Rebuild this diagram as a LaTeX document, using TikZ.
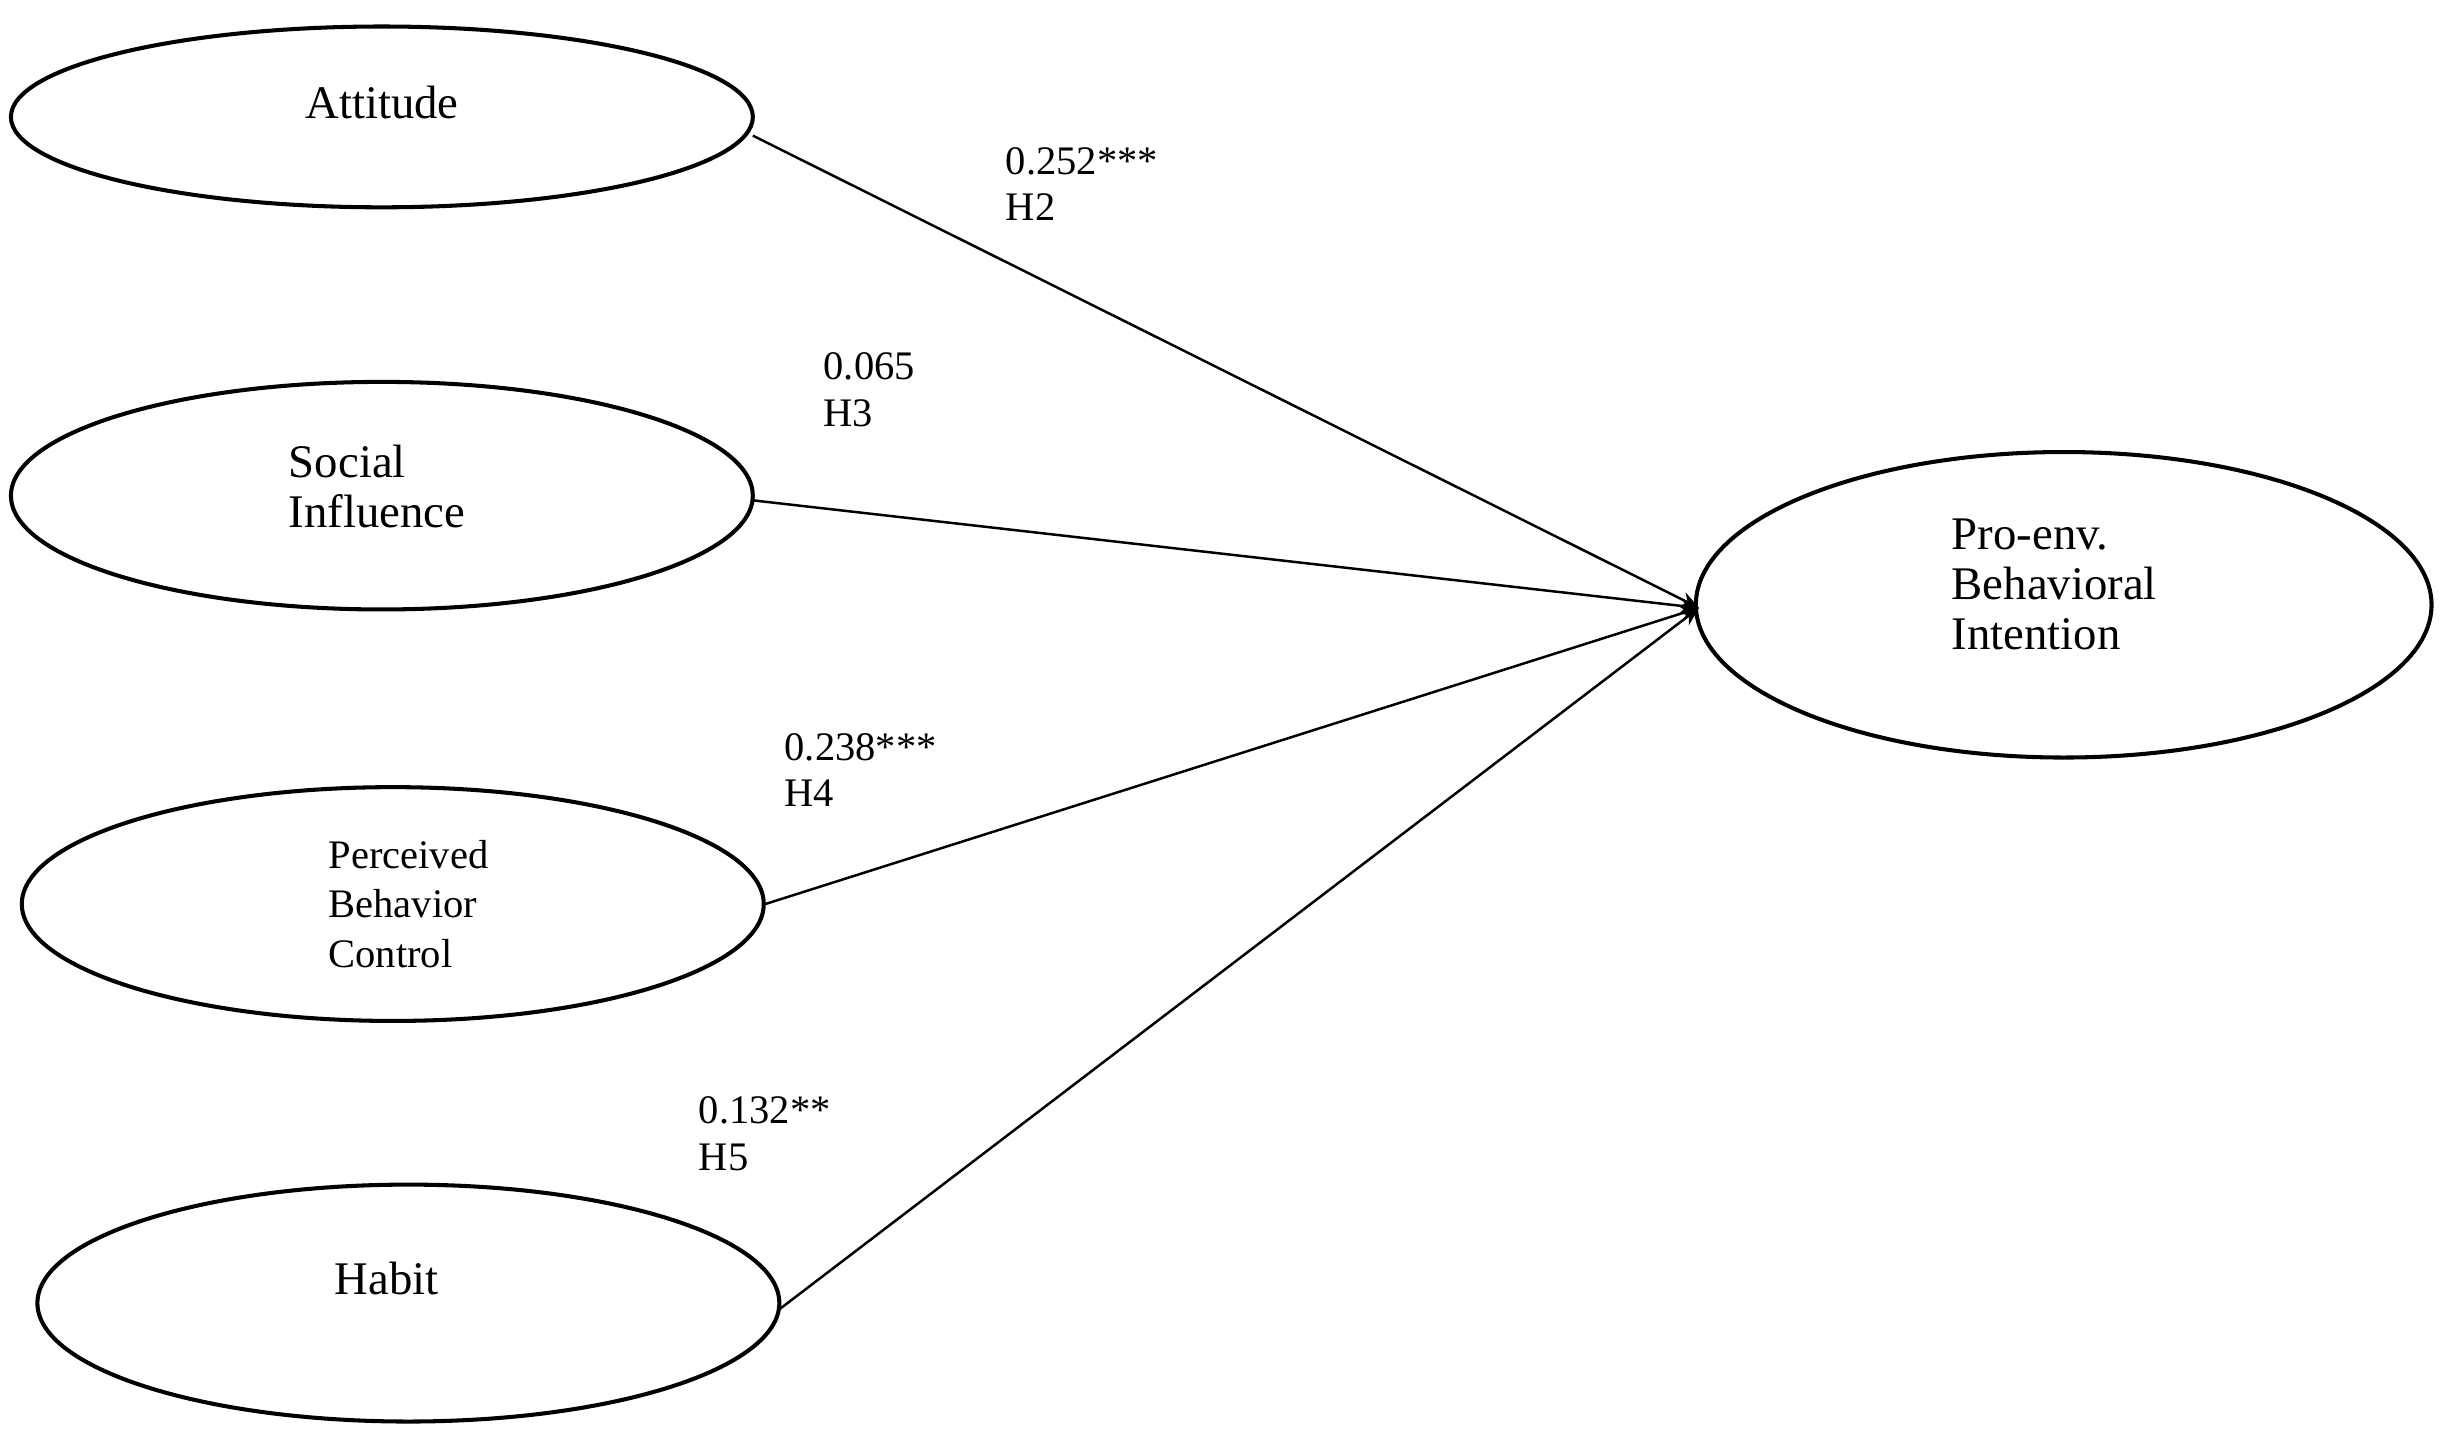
\documentclass[tikz,border=0pt]{standalone}
\usepackage{fontspec}
\setmainfont{Liberation Serif}
\usetikzlibrary{arrows.meta}
\begin{document}
\begin{tikzpicture}[x=0.5pt,y=-0.5pt,
  el/.style={draw,line width=1.3pt},
  lt/.style={font=\fontsize{15}{16}\selectfont,align=left},
  lab/.style={font=\fontsize{13}{15}\selectfont,align=left,anchor=north west,inner sep=0pt},
  ar/.style={line width=0.8pt,-{Stealth[length=6pt,width=5pt]}}]
\useasboundingbox (0,0) rectangle (1568,922);
\draw[el] (245,75) ellipse [x radius=238,y radius=58];
\draw[el] (245,318) ellipse [x radius=238,y radius=73];
\draw[el] (252,580) ellipse [x radius=238,y radius=75];
\draw[el] (262,836) ellipse [x radius=238,y radius=76];
\draw[el] (1324,388) ellipse [x radius=236,y radius=98];
\node[lt] (a) at (245,66) {Attitude};
\node[lt] (s) at (242,312) {Social\\Influence};
\node[lt,font=\fontsize{13}{16}\selectfont] (p) at (262,580) {Perceived\\Behavior\\Control};
\node[lt] (h) at (248,820) {Habit};
\node[lt] (t) at (1318,375) {Pro-env.\\Behavioral\\Intention};
\coordinate (a1) at (483,87);
\coordinate (s1) at (483,321);
\coordinate (p1) at (491,580);
\coordinate (h1) at (500,840);
\coordinate (tip) at (1090,390);
\draw[ar] (a1) -- (tip);
\draw[ar] (s1) -- (tip);
\draw[ar] (p1) -- (tip);
\draw[ar] (h1) -- (tip);
\node[lab] (l2) at (645,94) {0.252***\\H2};
\node[lab] (l3) at (528,226) {0.065\\H3};
\node[lab] (l4) at (503,470) {0.238***\\H4};
\node[lab] (l5) at (448,703) {0.132**\\H5};
\end{tikzpicture}
\end{document}
